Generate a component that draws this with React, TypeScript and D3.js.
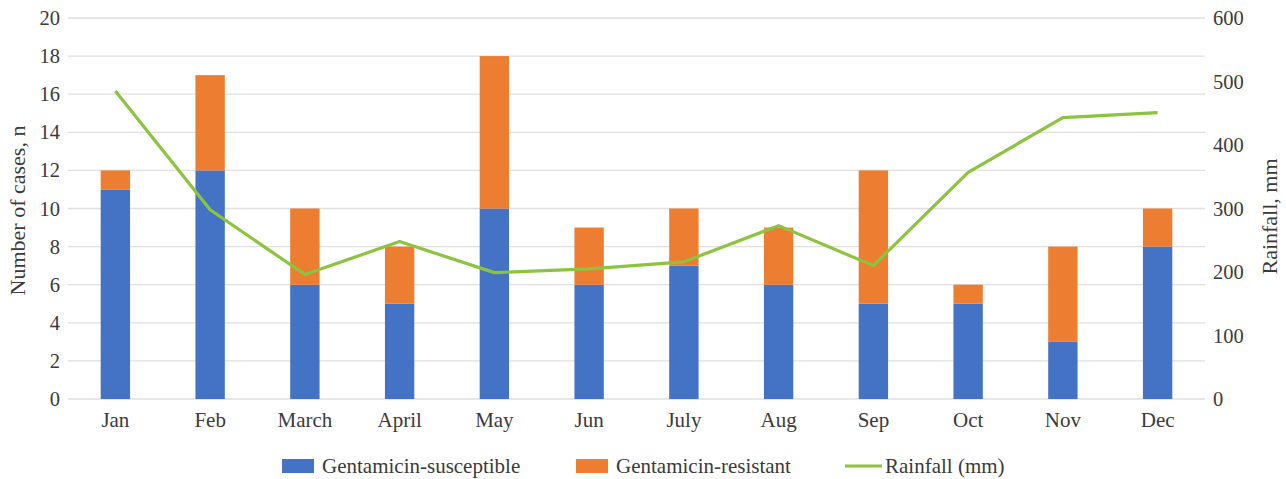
import React, { useEffect, useRef } from 'react';
import * as d3 from 'd3';

const months = ['Jan', 'Feb', 'March', 'April', 'May', 'Jun', 'July', 'Aug', 'Sep', 'Oct', 'Nov', 'Dec'];
const susceptible = [11, 12, 6, 5, 10, 6, 7, 6, 5, 5, 3, 8];
const resistant = [1, 5, 4, 3, 8, 3, 3, 3, 7, 1, 5, 2];
const rainfall = [485, 298, 196, 248, 199, 205, 216, 273, 210, 357, 443, 451];
const leftTicks = [0, 2, 4, 6, 8, 10, 12, 14, 16, 18, 20];
const rightTicks = [0, 100, 200, 300, 400, 500, 600];

const FONT = 'Liberation Serif';
const TEXT = '#3a3a3a';
const BLUE = '#4472C4';
const ORANGE = '#ED7D31';
const GREEN = '#8CC43F';

const App: React.FC = () => {
  const svgRef = useRef<SVGSVGElement | null>(null);

  useEffect(() => {
    if (!svgRef.current) return;
    const width = 1286;
    const height = 479;
    const margin = { top: 18, right: 81, bottom: 80, left: 68 };

    const svg = d3.select(svgRef.current)
      .attr('width', width)
      .attr('height', height)
      .attr('font-family', FONT);
    svg.selectAll('*').remove();

    const x = d3.scaleBand<string>()
      .domain(months)
      .range([margin.left, width - margin.right])
      .paddingInner(0.69)
      .paddingOuter(0.345);

    const y = d3.scaleLinear().domain([0, 20]).range([height - margin.bottom, margin.top]);
    const y2 = d3.scaleLinear().domain([0, 600]).range([height - margin.bottom, margin.top]);

    // gridlines
    svg.append('g')
      .selectAll('line')
      .data(leftTicks)
      .join('line')
      .attr('x1', margin.left)
      .attr('x2', width - margin.right)
      .attr('y1', d => y(d))
      .attr('y2', d => y(d))
      .attr('stroke', '#e2dede')
      .attr('stroke-width', 1.3);

    const styleAxis = (g: d3.Selection<SVGGElement, unknown, null, undefined>, size: number) => {
      g.attr('font-family', FONT);
      g.select('.domain').remove();
      g.selectAll('text').attr('font-size', size).attr('fill', TEXT).attr('font-family', FONT);
    };

    // left axis
    const la = svg.append('g')
      .attr('transform', `translate(${margin.left - 8},0)`)
      .call(d3.axisLeft(y).tickValues(leftTicks).tickSize(0).tickPadding(0));
    styleAxis(la, 20.5);

    // right axis
    const ra = svg.append('g')
      .attr('transform', `translate(${width - margin.right + 8},0)`)
      .call(d3.axisRight(y2).tickValues(rightTicks).tickSize(0).tickPadding(0));
    styleAxis(ra, 20.5);

    // x axis
    const xa = svg.append('g')
      .attr('transform', `translate(0,${height - margin.bottom})`)
      .call(d3.axisBottom(x).tickSize(0).tickPadding(13));
    styleAxis(xa, 21);

    // stacked bars
    const bars = svg.append('g');
    bars.selectAll('rect.s')
      .data(months)
      .join('rect')
      .attr('class', 's')
      .attr('x', d => x(d)!)
      .attr('width', x.bandwidth())
      .attr('y', (_, i) => y(susceptible[i]))
      .attr('height', (_, i) => y(0) - y(susceptible[i]))
      .attr('fill', BLUE);
    bars.selectAll('rect.r')
      .data(months)
      .join('rect')
      .attr('class', 'r')
      .attr('x', d => x(d)!)
      .attr('width', x.bandwidth())
      .attr('y', (_, i) => y(susceptible[i] + resistant[i]))
      .attr('height', (_, i) => y(susceptible[i]) - y(susceptible[i] + resistant[i]))
      .attr('fill', ORANGE);

    // rainfall line
    const line = d3.line<number>()
      .x((_, i) => x(months[i])! + x.bandwidth() / 2)
      .y(d => y2(d));
    svg.append('path')
      .datum(rainfall)
      .attr('d', line)
      .attr('fill', 'none')
      .attr('stroke', GREEN)
      .attr('stroke-width', 3.2)
      .attr('stroke-linejoin', 'round');

    // axis titles
    const midY = (margin.top + height - margin.bottom) / 2;
    svg.append('text')
      .attr('transform', `translate(25,${midY + 2}) rotate(-90)`)
      .attr('text-anchor', 'middle')
      .attr('font-size', 22)
      .attr('font-family', FONT)
      .attr('fill', TEXT)
      .text('Number of cases, n');
    svg.append('text')
      .attr('transform', `translate(1277,${midY + 8}) rotate(-90)`)
      .attr('text-anchor', 'middle')
      .attr('font-size', 22)
      .attr('font-family', FONT)
      .attr('fill', TEXT)
      .text('Rainfall, mm');

    // legend
    const ly = 466;
    const legend = svg.append('g');
    const addText = (tx: number, label: string) =>
      legend.append('text')
        .attr('x', tx)
        .attr('y', ly + 7)
        .attr('font-size', 21)
        .attr('font-family', FONT)
        .attr('fill', TEXT)
        .text(label);
    legend.append('rect').attr('x', 282).attr('y', ly - 7).attr('width', 32).attr('height', 14).attr('fill', BLUE);
    addText(322, 'Gentamicin-susceptible');
    legend.append('rect').attr('x', 576).attr('y', ly - 7).attr('width', 32).attr('height', 14).attr('fill', ORANGE);
    addText(616, 'Gentamicin-resistant');
    legend.append('line').attr('x1', 845).attr('x2', 882).attr('y1', ly).attr('y2', ly)
      .attr('stroke', GREEN).attr('stroke-width', 3.2);
    addText(885, 'Rainfall (mm)');
  }, []);

  return <svg ref={svgRef} style={{ display: 'block', position: 'absolute', left: 0, top: 0 }}></svg>;
};

export default App;
